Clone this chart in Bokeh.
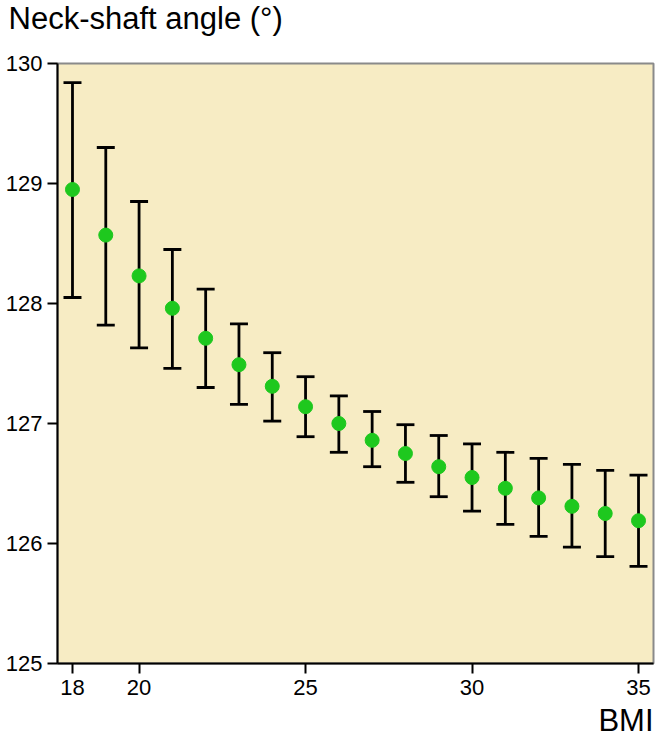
from bokeh.plotting import figure
from bokeh.models import Range1d, FixedTicker, Title, ColumnDataSource
from bokeh.embed import file_html
from bokeh.resources import INLINE

# Data
bmi = [18, 19, 20, 21, 22, 23, 24, 25, 26, 27, 28, 29, 30, 31, 32, 33, 34, 35]
mean_angle = [128.95, 128.57, 128.23, 127.96, 127.71, 127.49, 127.31, 127.14, 127.00,
              126.86, 126.75, 126.64, 126.55, 126.46, 126.38, 126.31, 126.25, 126.19]
upper_ci = [129.84, 129.30, 128.85, 128.45, 128.12, 127.83, 127.59, 127.39, 127.23,
            127.10, 126.99, 126.90, 126.83, 126.76, 126.71, 126.66, 126.61, 126.57]
lower_ci = [128.05, 127.82, 127.63, 127.46, 127.30, 127.16, 127.02, 126.89, 126.76,
            126.64, 126.51, 126.39, 126.27, 126.16, 126.06, 125.97, 125.89, 125.81]
x_ticks = [18, 20, 25, 30, 35]
y_ticks = [125, 126, 127, 128, 129, 130]

FONT = "Liberation Sans"
CAP = 0.27  # half cap width in data units

src = ColumnDataSource(dict(
    x=bmi, m=mean_angle, up=upper_ci, lo=lower_ci,
    xl=[v - CAP for v in bmi], xr=[v + CAP for v in bmi],
))

p = figure(width=655, height=742, output_backend="svg", toolbar_location=None,
           x_range=Range1d(17.55, 35.45), y_range=Range1d(125, 130),
           min_border_left=57, min_border_right=2, min_border_top=63, min_border_bottom=79)

p.background_fill_color = "#f7ecc4"
p.border_fill_color = "white"
p.outline_line_color = "#8a8a8a"
p.outline_line_width = 2
p.xgrid.visible = False
p.ygrid.visible = False

for ax in (p.xaxis[0], p.yaxis[0]):
    ax.axis_line_color = "black"
    ax.axis_line_width = 2
    ax.major_tick_line_color = "black"
    ax.major_tick_line_width = 2
    ax.major_tick_out = 10
    ax.major_tick_in = 0
    ax.minor_tick_line_color = None
    ax.major_label_text_font = FONT
    ax.major_label_text_font_size = "22px"
    ax.major_label_text_color = "black"

p.xaxis[0].ticker = FixedTicker(ticks=x_ticks)
p.yaxis[0].ticker = FixedTicker(ticks=y_ticks)
p.xaxis[0].major_label_standoff = 6
p.yaxis[0].major_label_standoff = 5

# error bars
p.segment(x0="x", y0="lo", x1="x", y1="up", source=src, line_color="black", line_width=2.8)
p.segment(x0="xl", y0="up", x1="xr", y1="up", source=src, line_color="black", line_width=2.8)
p.segment(x0="xl", y0="lo", x1="xr", y1="lo", source=src, line_color="black", line_width=2.8)
# means
p.scatter(x="x", y="m", source=src, size=14, fill_color="#1ec81e", line_color="#1ec81e")

# spacer above the frame, then the chart title further out
spacer = Title(text=" ", text_font_size="1px", standoff=28)
p.add_layout(spacer, "above")
ytitle = Title(text="Neck-shaft angle (°)", text_font=FONT, text_font_size="31px",
               text_font_style="normal", text_color="black", align="left",
               offset=-49, standoff=-6)
p.add_layout(ytitle, "above")

xlabel = Title(text="BMI", text_font=FONT, text_font_size="31px", text_font_style="normal",
               text_color="black", align="right", standoff=6)
p.add_layout(xlabel, "below")

open("out.html", "w").write(file_html(p, INLINE))
